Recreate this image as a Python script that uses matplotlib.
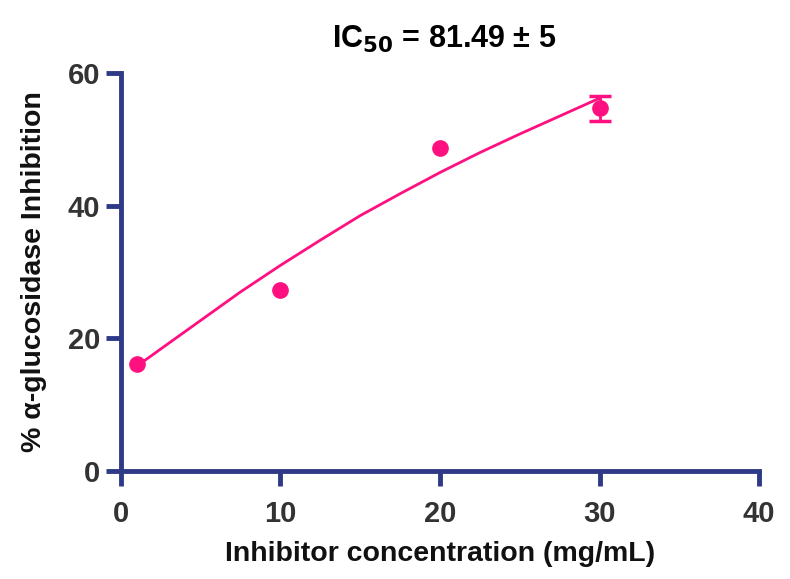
import matplotlib
matplotlib.use("Agg")
import matplotlib.pyplot as plt

# Data
conc = [1, 10, 20, 30]
inhibition = [16.2, 27.3, 48.7, 54.7]
inhibition_sd = [0.0, 0.0, 0.0, 1.9]

fit_x = [1, 2.5, 5, 7.5, 10, 12.5, 15, 17.5, 20, 22.5, 25, 27.5, 30]
fit_y = [15.8, 18.4, 22.7, 27.0, 31.0, 34.8, 38.5, 41.8, 45.0, 48.0, 50.8, 53.5, 56.2]

x_ticks = [0, 10, 20, 30, 40]
y_ticks = [0, 20, 40, 60]

navy = "#2E3A87"
pink = "#FF1080"
font = "Liberation Sans"

fig = plt.figure(figsize=(7.9, 5.79), dpi=100)
ax = fig.add_axes([0.153, 0.1865, 0.808, 0.6875])

ax.plot(fit_x, fit_y, color=pink, lw=2, zorder=2)
ax.plot(conc, inhibition, "o", color=pink, markersize=11, zorder=3)
ex = [x for x, s in zip(conc, inhibition_sd) if s > 0]
ey = [y for y, s in zip(inhibition, inhibition_sd) if s > 0]
es = [s for s in inhibition_sd if s > 0]
ax.errorbar(ex, ey, yerr=es, fmt="none", ecolor=pink, elinewidth=2,
            capsize=8, capthick=2.5, zorder=3)

ax.set_xlim(0, 40)
ax.set_ylim(0, 60)
ax.set_xticks(x_ticks)
ax.set_yticks(y_ticks)

for s in ["top", "right"]:
    ax.spines[s].set_visible(False)
for s in ["left", "bottom"]:
    ax.spines[s].set_color(navy)
    ax.spines[s].set_linewidth(3.5)

ax.tick_params(axis="both", colors=navy, width=3.5, length=11, direction="out",
               labelsize=21, labelcolor="#333333")
ax.tick_params(axis="x", pad=10)
ax.tick_params(axis="y", pad=4)
for lab in ax.get_xticklabels() + ax.get_yticklabels():
    lab.set_fontweight("bold")
    lab.set_fontfamily(font)

ax.set_xlabel("Inhibitor concentration (mg/mL)", fontsize=20.5, fontweight="bold",
              family=font, color="#111111", labelpad=9)
ax.set_ylabel("% α-glucosidase Inhibition", fontsize=20.5, fontweight="bold",
              family=font, color="#111111", labelpad=15)
fig.text(0.562, 0.932, r"IC$_{\mathbf{50}}$ = 81.49 ± 5", fontsize=22, fontweight="bold",
         family=font, ha="center", va="center")

fig.savefig("out.png", dpi=100)
